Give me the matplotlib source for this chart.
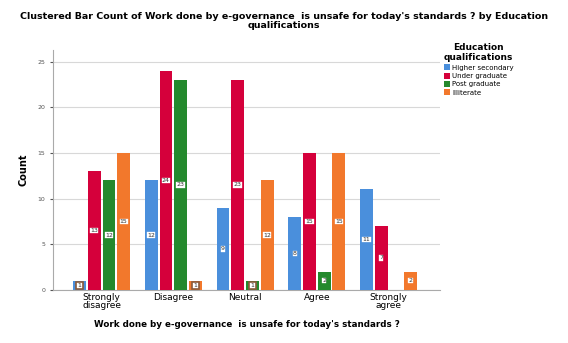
import matplotlib.pyplot as plt
import numpy as np

categories = ['Strongly\ndisagree', 'Disagree', 'Neutral', 'Agree', 'Strongly\nagree']
groups = ['Higher secondary', 'Under graduate', 'Post graduate', 'Illiterate']
colors = ['#4a8fdc', '#d5003b', '#24892d', '#f2782c']

higher_secondary = [1, 12, 9, 8, 11]
under_graduate = [13, 24, 23, 15, 7]
post_graduate = [12, 23, 1, 2, 0]
illiterate = [15, 1, 12, 15, 2]
counts = [higher_secondary, under_graduate, post_graduate, illiterate]

fig = plt.figure(figsize=(5.68, 3.43), dpi=100)
ax = fig.add_axes([0.093, 0.155, 0.682, 0.70])

x = np.arange(len(categories))
step = 0.205
width = 0.18
for i, (name, vals, c) in enumerate(zip(groups, counts, colors)):
    pos = x + (i - 1.5) * step
    ax.bar(pos, vals, width, color=c, label=name, zorder=3)
    for p, v in zip(pos, vals):
        if v == 0:
            continue
        ax.text(p, v / 2 if v > 1 else 0.5, str(v), ha='center', va='center',
                fontsize=4.5, color='#333333', zorder=4,
                bbox=dict(boxstyle='square,pad=0.2', fc='white', ec=c if v > 1 else '#8a5a3a', lw=1.2))

ax.set_xlim(-0.68, 4.72)
ax.set_ylim(0, 26.3)
ax.set_yticks([0, 5, 10, 15, 20, 25])
ax.tick_params(axis='y', labelsize=4.5, length=2, colors='#555555')
ax.tick_params(axis='x', labelsize=6.5, length=0, pad=2)
ax.set_xticks(x)
ax.set_xticklabels(categories, linespacing=0.95)
ax.yaxis.grid(True, color='#d8d8d8', lw=0.8, zorder=0)
for s in ['top', 'right']:
    ax.spines[s].set_visible(False)
ax.spines['left'].set_color('#aaaaaa')
ax.spines['bottom'].set_color('#aaaaaa')

ax.set_ylabel('Count', fontsize=7, fontweight='bold', labelpad=6)
ax.set_xlabel("Work done by e-governance  is unsafe for today's standards ?", fontsize=6.3, fontweight='bold', labelpad=7)

fig.text(0.5, 0.965, "Clustered Bar Count of Work done by e-governance  is unsafe for today's standards ? by Education\nqualifications",
         ha='center', va='top', fontsize=6.8, fontweight='bold', linespacing=0.95)

leg = fig.legend(loc='upper left', bbox_to_anchor=(0.775, 0.885), bbox_transform=fig.transFigure,
                 frameon=False, fontsize=5.0, alignment='center',
                 title='Education\nqualifications', title_fontproperties={'weight': 'bold', 'size': 6.5},
                 handlelength=0.9, handleheight=0.9, handletextpad=0.3, labelspacing=0.3, borderpad=0)
leg.get_title().set_ha('center')

fig.savefig('out.png', dpi=100)
